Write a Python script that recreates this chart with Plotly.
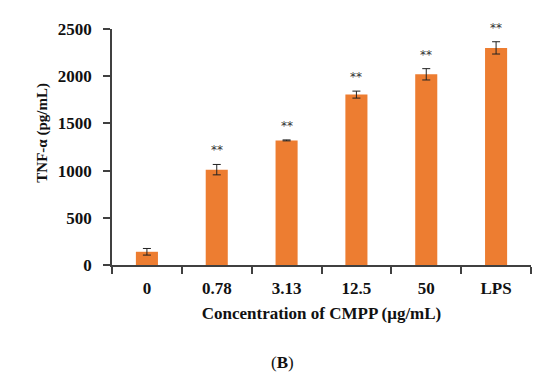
import plotly.graph_objects as go

categories = ["0", "0.78", "3.13", "12.5", "50", "LPS"]
values = [140, 1010, 1320, 1805, 2020, 2300]
errors = [35, 55, 5, 37, 60, 65]
sig = ["", "**", "**", "**", "**", "**"]
yticks = [0, 500, 1000, 1500, 2000, 2500]

ORANGE = "#ED7D31"
AX = "#404040"
FONT = "Liberation Serif"
TXT = "#111111"

idx = list(range(len(categories)))

fig = go.Figure()
fig.add_trace(go.Bar(
    x=idx, y=values,
    marker=dict(color=ORANGE, line=dict(width=0)),
    error_y=dict(type="data", array=errors, visible=True, color="#222222",
                 thickness=1, width=4),
))

for i, v, e, s in zip(idx, values, errors, sig):
    if s:
        fig.add_annotation(x=i, y=v + e, text=s, showarrow=False,
                           yanchor="bottom", yshift=5,
                           font=dict(family="DejaVu Sans", size=12, color="#333333"))

# y-axis title
fig.add_annotation(xref="paper", yref="paper", x=-0.165, y=0.56,
                   text="<b>TNF-α (pg/mL)</b>", textangle=-90, showarrow=False,
                   xanchor="center", yanchor="middle",
                   font=dict(family=FONT, size=15, color=TXT))
# panel label
fig.add_annotation(xref="paper", yref="paper", x=0.406, y=-0.415,
                   text="(<b>B</b>)", showarrow=False,
                   xanchor="center", yanchor="middle",
                   font=dict(family=FONT, size=17, color=TXT))

fig.update_layout(
    width=543, height=367,
    margin=dict(l=104, r=20, t=12, b=110),
    paper_bgcolor="white", plot_bgcolor="white",
    bargap=0.684,
    showlegend=False,
    font=dict(family=FONT, color=TXT),
)
fig.update_xaxes(
    range=[-0.5, len(categories) - 0.5],
    tickvals=idx, ticktext=[f"<b>{c}</b>" for c in categories],
    showline=True, linecolor=AX, linewidth=1.5,
    ticks="", showgrid=False, zeroline=False,
    tickfont=dict(family=FONT, size=17, color=TXT),
    ticklabelstandoff=7, tickangle=0,
    minor=dict(tickvals=[i - 0.5 for i in idx] + [len(categories) - 0.5],
               ticks="outside", ticklen=7, tickcolor=AX, tickwidth=1.5, showgrid=False),
    title=dict(text="<b>Concentration of CMPP (μg/mL)</b>", standoff=10,
               font=dict(family=FONT, size=17, color=TXT)),
)
fig.update_yaxes(
    range=[0, 2500],
    tickvals=yticks, ticktext=[f"<b>{t}</b>" for t in yticks],
    showline=True, linecolor=AX, linewidth=1.5,
    ticks="outside", ticklen=7, tickcolor=AX, tickwidth=1.5,
    showgrid=False, zeroline=False,
    tickfont=dict(family=FONT, size=17, color=TXT),
    ticklabelstandoff=8,
)

fig.write_html("out.html")
